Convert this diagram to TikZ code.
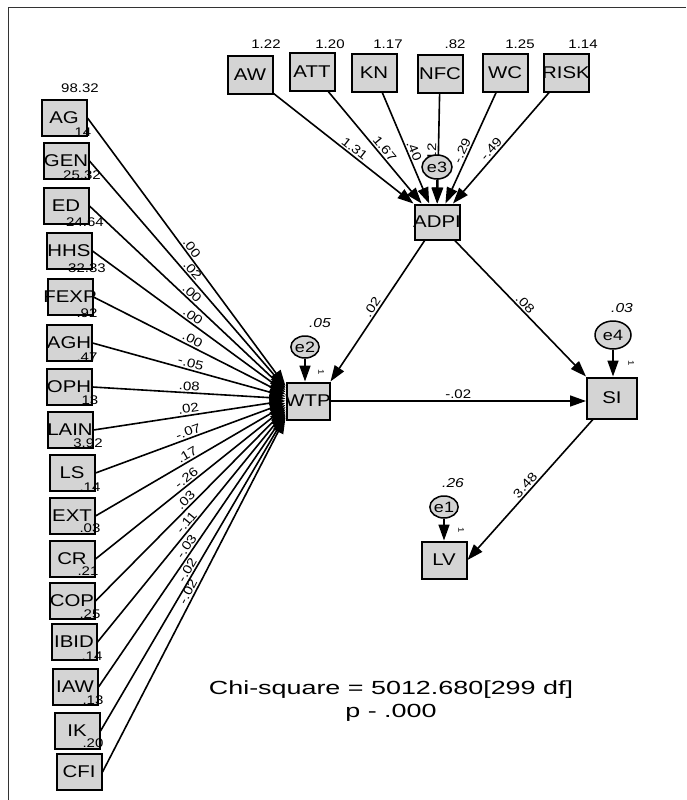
\documentclass[tikz,border=0pt]{standalone}
\usepackage{fontspec}
\setmainfont[FakeStretch=1.2]{Liberation Sans}
\usepackage{graphicx}
\usetikzlibrary{arrows.meta,shapes.geometric}
\definecolor{boxgray}{HTML}{D4D4D4}
\newcommand\bt[1]{\makebox[0pt]{#1}}
\begin{document}
\begin{tikzpicture}[x=1pt,y=-1pt,
 box/.style={draw=black,line width=2pt,fill=boxgray,minimum width=45pt,minimum height=36pt,inner sep=0pt,font=\fontsize{17}{17}\selectfont},
 err/.style={ellipse,draw=black,line width=1.5pt,fill=boxgray,minimum width=28pt,minimum height=22pt,inner sep=0pt,font=\fontsize{15}{15}\selectfont},
 num/.style={inner sep=0.5pt,font=\fontsize{12.5}{12.5}\selectfont},
 sqm/.style={inner sep=0.5pt,font=\fontsize{13}{13}\selectfont\itshape},
 coef/.style={inner sep=1.5pt,font=\fontsize{12.5}{12.5}\selectfont,sloped},
 arr/.style={line width=1.6pt,-{Triangle[length=16pt,width=11pt]}},
 one/.style={inner sep=0pt,font=\fontsize{8}{8}\selectfont,rotate=-90}]
\useasboundingbox (0,0) rectangle (686,800);
\fill[white] (0,0) rectangle (686,800);
\draw[line width=0.9pt,black!80] (8,800) -- (8,7) -- (686,7);

% central nodes
\node[box,minimum width=43pt,minimum height=37pt] (WTP) at (308,401) {\bt{WTP}};
\node[box,minimum height=35pt] (ADPI) at (437,222) {\bt{ADPI}};
\node[box,minimum width=50pt,minimum height=41pt] (SI) at (612,398) {\bt{SI}};
\node[box,minimum height=37pt] (LV) at (444,560) {\bt{LV}};

% top exogenous
\foreach \n/\x/\y/\v/\lx/\c in {AW/250/75/1.22/266/1.31, ATT/312/72/1.20/330/1.67, KN/374/73/1.17/388/.40, NFC/440/74/.82/455/.12, WC/505/73/1.25/520/-.29, RISK/566/73/1.14/583/-.49}{
  \node[box,minimum height=37pt] (\n) at (\x,\y) {\bt{\n}};
  \node[num] at (\lx,44) {\v};
  \draw[arr] (\n) -- (ADPI) node[coef,pos=.55,above]{\c};
}
\node[err,minimum width=30pt,minimum height=24pt] (e3) at (437,167) {e3};
\draw[arr] (e3) -- (ADPI);

% left exogenous
\foreach \n/\x/\y/\v/\lx/\ly/\c [count=\i from 0] in {
 AG/64/118/14/83/132/.00,
 GEN/66/161/25.32/82/175/.02,
 ED/66/206/24.64/85/222/.00,
 HHS/69/251/32.33/87/268/.00,
 FEXP/70/297/.92/87/313/.00,
 AGH/69/343/.47/87/357/-.05,
 OPH/69/387/13/90/400/.08,
 LAIN/70/430/3.92/88/443/.02,
 LS/72/473/.14/90/487/-.07,
 EXT/72/516/.03/90/528/.17,
 CR/72/559/.21/88/571/-.26,
 COP/72/601/.25/90/614/.03,
 IBID/74/642/.14/92/656/-.11,
 IAW/75/687/.13/93/700/-.03,
 IK/77/731/.20/93/743/-.02,
 CFI/79/772//93/785/-.02}{
  \node[box] (\n) at (\x,\y) {\bt{\n}};
  \draw[arr] (\n.east) -- ([yshift={15-2.1*\i}]WTP.west) node[coef,pos=.5,above]{\c};
  \node[num] at (\lx,\ly) {\v};
}
\node[num] at (80,88) {98.32};

% structural paths
\draw[arr] (ADPI) -- (WTP.north east) node[coef,pos=.5,above]{.02};
\draw[arr] (ADPI) -- (SI.north west) node[coef,pos=.5,above]{.08};
\draw[arr] (WTP.east) -- (WTP.east -| SI.west) node[coef,pos=.5,above]{-.02};
\draw[arr] (SI) -- (LV.east) node[coef,pos=.5,above]{3.48};

% error terms
\node[err] (e2) at (305,347) {e2};
\node[sqm] at (320,323) {.05};
\draw[arr] (e2) -- (e2 |- WTP.north);
\node[one] at (321,372) {1};

\node[err,minimum width=36pt,minimum height=28pt] (e4) at (613,335) {e4};
\node[sqm] at (622,308) {.03};
\draw[arr] (e4) -- (e4 |- SI.north);
\node[one] at (631,363) {1};

\node[err] (e1) at (444,507) {e1};
\node[sqm] at (453,483) {.26};
\draw[arr] (e1) -- (e1 |- LV.north);
\node[one] at (461,530) {1};

% fit statistics
\node[inner sep=0pt,font=\fontsize{19}{19}\selectfont] (chi) at (391,690) {\scalebox{1.18}[1]{Chi-square = 5012.680[299 df]}};
\node[inner sep=0pt,font=\fontsize{19}{19}\selectfont] (pv) at (391,713) {\scalebox{1.18}[1]{p - .000}};
\end{tikzpicture}
\end{document}
